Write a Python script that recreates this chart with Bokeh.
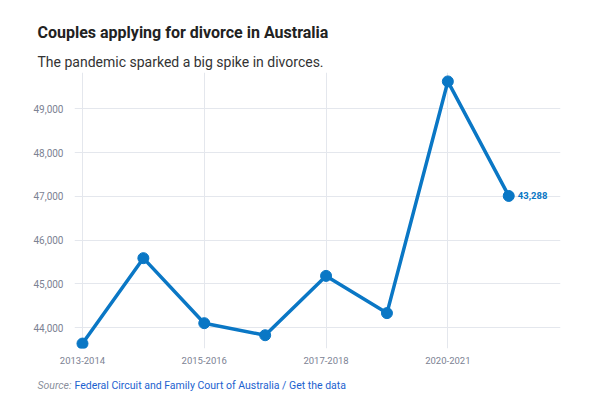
from bokeh.plotting import figure
from bokeh.models import FixedTicker, Range1d, NumeralTickFormatter, Title
from bokeh.layouts import column
from bokeh.core.properties import value
from bokeh.embed import file_html
from bokeh.resources import INLINE

periods = ["2013-2014", "2014-2015", "2015-2016", "2016-2017", "2017-2018",
           "2018-2019", "2020-2021", "2021-2022"]
applications = [43640, 45590, 44105, 43830, 45185, 44335, 49625, 47010]
y_ticks = [44000, 45000, 46000, 47000, 48000, 49000]
x_tick_positions = [0, 2, 4, 6]
x_tick_labels = ["2013-2014", "2015-2016", "2017-2018", "2020-2021"]
end_label = "43,288"

title = "Couples applying for divorce in Australia"
subtitle = "The pandemic sparked a big spike in divorces."
source_prefix = "Source:"
source_text = "Federal Circuit and Family Court of Australia / Get the data"

BLUE = "#0a77c5"
GRID = "#e4e7ed"
TICK = "#7c8293"
FONT = "Roboto"
W = 602

# ---- main chart ----
xs = list(range(len(periods)))
p = figure(width=W, height=372, output_backend="svg", toolbar_location=None,
           title_location=None,
           x_range=Range1d(-0.131, 7.85), y_range=Range1d(43527, 49829),
           min_border_left=74, min_border_right=42, min_border_top=72,
           min_border_bottom=24)
p.outline_line_color = None

sub = Title(text=subtitle, align="left", offset=-37, standoff=6,
            text_font=FONT, text_font_size="14px", text_font_style="normal",
            text_color="#333333")
p.add_layout(sub, "above")
ttl = Title(text=title, align="left", offset=-37, standoff=13,
            text_font=FONT, text_font_size="16px", text_font_style="bold",
            text_color="#222222")
p.add_layout(ttl, "above")

p.ygrid.ticker = FixedTicker(ticks=y_ticks)
p.ygrid.grid_line_color = GRID
p.ygrid.bounds = (-0.131, 7.131)
p.xgrid.ticker = FixedTicker(ticks=x_tick_positions)
p.xgrid.grid_line_color = GRID
p.xgrid.bounds = (43642, 49607)

p.yaxis.ticker = FixedTicker(ticks=y_ticks)
p.yaxis.formatter = NumeralTickFormatter(format="0,0")
p.yaxis.axis_line_color = None
p.yaxis.major_tick_line_color = None
p.yaxis.minor_tick_line_color = None
p.yaxis.major_label_standoff = 5
p.yaxis.major_label_text_font = FONT
p.yaxis.major_label_text_font_size = "10px"
p.yaxis.major_label_text_color = TICK

p.xaxis.ticker = FixedTicker(ticks=x_tick_positions)
p.xaxis.major_label_overrides = {pos: lab for pos, lab in zip(x_tick_positions, x_tick_labels)}
p.xaxis.axis_line_color = None
p.xaxis.major_tick_line_color = None
p.xaxis.minor_tick_line_color = None
p.xaxis.major_label_standoff = 2
p.xaxis.major_label_text_font = FONT
p.xaxis.major_label_text_font_size = "9.5px"
p.xaxis.major_label_text_color = TICK

p.line(xs, applications, line_color=BLUE, line_width=3.5, line_join="round")
p.scatter(xs, applications, size=11, fill_color=BLUE, line_color=BLUE)
p.text([xs[-1]], [applications[-1]], text=[end_label], x_offset=9,
       text_baseline="middle", text_align="left", text_color=BLUE,
       text_font=value(FONT), text_font_size="9.5px", text_font_style="bold")

# ---- footer ----
foot = figure(width=W, height=23, output_backend="svg", toolbar_location=None,
              title_location=None, x_axis_type=None,
              x_range=Range1d(0, 1), y_range=Range1d(0, 23),
              min_border_left=74, min_border_right=42, min_border_top=0,
              min_border_bottom=0)
foot.outline_line_color = None
foot.grid.visible = False
foot.yaxis.ticker = FixedTicker(ticks=[10])
foot.yaxis.major_label_overrides = {10: source_prefix}
foot.yaxis.axis_line_color = None
foot.yaxis.major_tick_line_color = None
foot.yaxis.minor_tick_line_color = None
foot.yaxis.major_label_standoff = -3
foot.yaxis.major_label_text_font = FONT
foot.yaxis.major_label_text_font_size = "10.5px"
foot.yaxis.major_label_text_font_style = "italic"
foot.yaxis.major_label_text_color = "#8a8f9c"
foot.text([0], [10], text=[source_text], text_baseline="middle", text_align="left",
          text_font=value(FONT), text_font_size="10.5px", text_color="#1c62cf")

layout = column(p, foot, spacing=0)
open("out.html", "w").write(file_html(layout, INLINE))
